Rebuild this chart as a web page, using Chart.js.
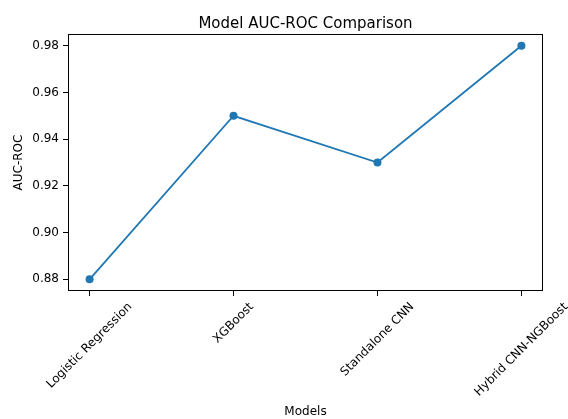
<!DOCTYPE html>
<html lang="en">
  <head>
    <meta charset="UTF-8" />
    <title>Model AUC-ROC Comparison</title>
    <script src="https://cdn.jsdelivr.net/npm/chart.js@4.4.1/dist/chart.umd.min.js"></script>
    <style>
      html, body { margin: 0; padding: 0; background: #fff; }
      #wrap { width: 568px; height: 419px; }
    </style>
  </head>
  <body>
    <div id="wrap"><canvas id="chart" width="568" height="419"></canvas></div>
    <script>
      const models = ['Logistic Regression', 'XGBoost', 'Standalone CNN', 'Hybrid CNN-NGBoost']
      const aucRoc = [0.88, 0.95, 0.93, 0.98]
      const yTicks = [0.88, 0.90, 0.92, 0.94, 0.96, 0.98]
      const chartTitle = 'Model AUC-ROC Comparison'

      const FONT = '"DejaVu Sans", sans-serif'
      const BLUE = '#1f77b4'

      // axes frame, title centred over the plot, and matplotlib-style
      // rotated x labels centred on their ticks
      const mplAxes = {
        id: 'mplAxes',
        afterDraw(chart) {
          const { ctx, chartArea: a, scales } = chart
          ctx.save()
          ctx.strokeStyle = '#000'
          ctx.lineWidth = 1
          ctx.strokeRect(Math.round(a.left) + 0.5, Math.round(a.top) + 0.5,
            Math.round(a.right - a.left) - 1, Math.round(a.bottom - a.top) - 1)

          ctx.fillStyle = '#000'
          ctx.textAlign = 'center'
          ctx.font = '15px ' + FONT
          ctx.textBaseline = 'alphabetic'
          ctx.fillText(chartTitle, (a.left + a.right) / 2, 28)

          ctx.font = '12px ' + FONT
          ctx.textBaseline = 'middle'
          const top = a.bottom + 5 + 4
          const h = 12 * 1.16
          models.forEach((name, i) => {
            const x = scales.x.getPixelForValue(i)
            const w = ctx.measureText(name).width
            const y = top + (w + h) * Math.SQRT1_2 / 2
            ctx.save()
            ctx.translate(x, y)
            ctx.rotate(-Math.PI / 4)
            ctx.fillText(name, 0, 0)
            ctx.restore()
          })
          ctx.restore()
        },
      }

      const ctx = document.getElementById('chart')
      const chart = new Chart(ctx, {
        type: 'line',
        data: {
          datasets: [
            {
              data: aucRoc.map((v, i) => ({ x: i, y: v })),
              borderColor: BLUE,
              backgroundColor: BLUE,
              borderWidth: 1.8,
              pointRadius: 4,
              pointHoverRadius: 4,
              pointBorderWidth: 0,
              tension: 0,
              fill: false,
            },
          ],
        },
        options: {
          responsive: false,
          animation: false,
          layout: { padding: { left: 0, right: 25, top: 34, bottom: 0 } },
          plugins: {
            legend: { display: false },
            tooltip: { enabled: false },
            title: { display: false },
          },
          scales: {
            x: {
              type: 'linear',
              min: -0.15,
              max: 3.15,
              afterFit: (s) => { s.height = 128 },
              ticks: { stepSize: 1, includeBounds: false, display: false },
              grid: { drawOnChartArea: false, drawTicks: true, tickLength: 5, tickColor: '#000' },
              border: { display: false },
              title: {
                display: true,
                text: 'Models',
                color: '#000',
                font: { family: FONT, size: 12 },
                padding: { top: 0, bottom: 0 },
              },
            },
            y: {
              min: 0.875,
              max: 0.985,
              afterFit: (s) => { s.width = 68 },
              afterBuildTicks: (s) => { s.ticks = yTicks.map((v) => ({ value: v })) },
              ticks: {
                color: '#000',
                padding: 4,
                font: { family: FONT, size: 12 },
                callback: (v) => Number(v).toFixed(2),
              },
              grid: { drawOnChartArea: false, drawTicks: true, tickLength: 5, tickColor: '#000' },
              border: { display: false },
              title: {
                display: true,
                text: 'AUC-ROC',
                color: '#000',
                font: { family: FONT, size: 12 },
                padding: { top: 12, bottom: 0 },
              },
            },
          },
        },
        plugins: [mplAxes],
      })
    </script>
  </body>
</html>
